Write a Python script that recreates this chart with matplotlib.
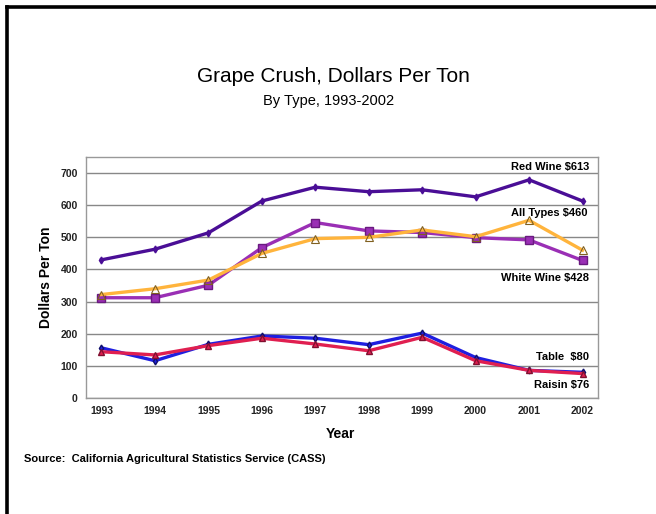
import matplotlib
matplotlib.use("Agg")
import matplotlib.pyplot as plt
from matplotlib.lines import Line2D

plt.rcParams["font.family"] = ["Liberation Sans", "DejaVu Sans"]

# data
years = [1993, 1994, 1995, 1996, 1997, 1998, 1999, 2000, 2001, 2002]
red_wine = [430, 463, 514, 613, 656, 642, 648, 626, 679, 613]
all_types = [322, 340, 367, 450, 496, 500, 523, 502, 553, 460]
white_wine = [312, 312, 351, 468, 546, 520, 515, 499, 492, 428]
table = [156, 116, 167, 193, 186, 166, 202, 126, 86, 80]
raisin = [144, 134, 163, 186, 168, 147, 189, 116, 86, 76]
y_ticks = [0, 100, 200, 300, 400, 500, 600, 700]

W, H = 656, 514
fig = plt.figure(figsize=(W / 100, H / 100), dpi=100)
fig.patch.set_facecolor("white")

# frame lines (top and left only)
fig.add_artist(Line2D([6.5 / W, 1], [1 - 6.5 / H, 1 - 6.5 / H], color="black", lw=2.6))
fig.add_artist(Line2D([6.5 / W, 6.5 / W], [0, 1 - 6.5 / H], color="black", lw=2.6))

ax = fig.add_axes([86 / W, 1 - 398 / H, (598 - 86) / W, (398 - 157) / H])

ax.plot(years, red_wine, color="#4A0E96", lw=2.4, marker="d", ms=3.5, zorder=5)
ax.plot(years, table, color="#1F1FE0", lw=2.4, marker="d", ms=3.5, mec="#10106A", zorder=3)
ax.plot(years, raisin, color="#E01F50", lw=2.4, marker="^", ms=4, mec="#801030", zorder=4)
ax.plot(years, white_wine, color="#9A2FB5", lw=2.4, marker="s", ms=5.5, mfc="#9A2FB5", mec="#6A1A80", zorder=3)
ax.plot(years, all_types, color="#FFB43C", lw=2.4, marker="^", ms=6, mfc="none", mec="#806020", mew=0.8, zorder=4)

ax.set_xlim(1993 - 0.29, 2002 + 0.29)
ax.set_ylim(0, 750)
ax.set_xticks(years)
ax.set_yticks(y_ticks)
ax.tick_params(length=0, labelsize=7.5, pad=6)
for lab in ax.get_xticklabels() + ax.get_yticklabels():
    lab.set_fontweight("bold")
    lab.set_color("#222222")
ax.yaxis.grid(True, color="#888888", lw=1)
ax.set_axisbelow(True)
for s in ax.spines.values():
    s.set_color("#999999")
    s.set_linewidth(1)

lab_kw = dict(transform=ax.transAxes, ha="right", va="center", fontsize=8, fontweight="bold")
ax.text(0.983, 1 - (167 - 157) / 241, "Red Wine $613", **lab_kw)
ax.text(0.98, 1 - (213 - 157) / 241, "All Types $460", **lab_kw)
ax.text(0.983, 1 - (278 - 157) / 241, "White Wine $428", **lab_kw)
ax.text(0.983, 1 - (357 - 157) / 241, "Table  $80", **lab_kw)
ax.text(0.983, 1 - (385 - 157) / 241, "Raisin $76", **lab_kw)

ax.set_ylabel("Dollars Per Ton", fontsize=10, fontweight="bold")
ax.yaxis.set_label_coords(-(86 - 53) / 512, 0.5)
ax.set_xlabel("Year", fontsize=10, fontweight="bold")
ax.xaxis.set_label_coords((340 - 86) / 512, -(427 - 398) / 241)

fig.text(333 / W, 1 - 76 / H, "Grape Crush, Dollars Per Ton", ha="center", va="center", fontsize=15)
fig.text(329 / W, 1 - 101 / H, "By Type, 1993-2002", ha="center", va="center", fontsize=10.5)
fig.text(24 / W, 1 - 459 / H, "Source:  California Agricultural Statistics Service (CASS)",
         ha="left", va="center", fontsize=8, fontweight="bold")

fig.savefig("out.png", dpi=100)
